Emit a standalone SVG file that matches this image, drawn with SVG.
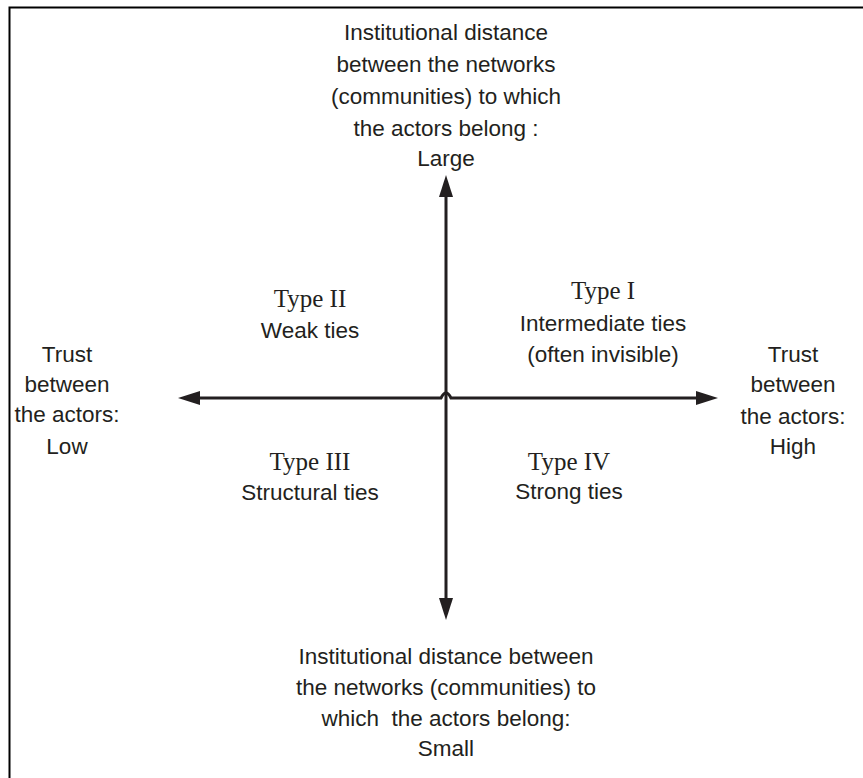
<svg xmlns="http://www.w3.org/2000/svg" width="863" height="778" viewBox="0 0 863 778">
<style>
.s{font-family:"Liberation Sans",Arial,sans-serif;font-size:22.5px;fill:#231f20;text-anchor:middle}
.t{font-family:"Liberation Serif","Times New Roman",serif;font-size:25px;fill:#231f20;text-anchor:middle}
.ax{stroke:#231f20;stroke-width:3;fill:none}
.ah{fill:#231f20}
</style>
<rect width="863" height="778" fill="#fff"/>
<path d="M9.5 778 V7.5 H863" fill="none" stroke="#000" stroke-width="2"/>
<g id="connectors">
<path class="ax" d="M198 398 H441 Q446 388 451 398 H700"/>
<path class="ax" d="M446 193 V602"/>
<polygon class="ah" points="178,398 200,391 200,405"/>
<polygon class="ah" points="718,398 696,391 696,405"/>
<polygon class="ah" points="446,175 439,197 453,197"/>
<polygon class="ah" points="446,620 439,598 453,598"/>
</g>
<g id="top-label">
<text class="s" x="446" y="40">Institutional distance</text>
<text class="s" x="446" y="72">between the networks</text>
<text class="s" x="446" y="104">(communities) to which</text>
<text class="s" x="446" y="136">the actors belong :</text>
<text class="s" x="446" y="166">Large</text>
</g>
<g id="bottom-label">
<text class="s" x="446" y="664">Institutional distance between</text>
<text class="s" x="446" y="695">the networks (communities) to</text>
<text class="s" x="446" y="726" xml:space="preserve">which  the actors belong:</text>
<text class="s" x="446" y="756">Small</text>
</g>
<g id="left-label">
<text class="s" x="67" y="362">Trust</text>
<text class="s" x="67" y="392">between</text>
<text class="s" x="67" y="422">the actors:</text>
<text class="s" x="67" y="454">Low</text>
</g>
<g id="right-label">
<text class="s" x="793" y="362">Trust</text>
<text class="s" x="793" y="392">between</text>
<text class="s" x="793" y="424">the actors:</text>
<text class="s" x="793" y="454">High</text>
</g>
<g id="type1">
<text class="t" x="603" y="299">Type I</text>
<text class="s" x="603" y="331">Intermediate ties</text>
<text class="s" x="603" y="362">(often invisible)</text>
</g>
<g id="type2">
<text class="t" x="310" y="307">Type II</text>
<text class="s" x="310" y="338">Weak ties</text>
</g>
<g id="type3">
<text class="t" x="310" y="470">Type III</text>
<text class="s" x="310" y="500">Structural ties</text>
</g>
<g id="type4">
<text class="t" x="569" y="470">Type IV</text>
<text class="s" x="569" y="499">Strong ties</text>
</g>
</svg>
